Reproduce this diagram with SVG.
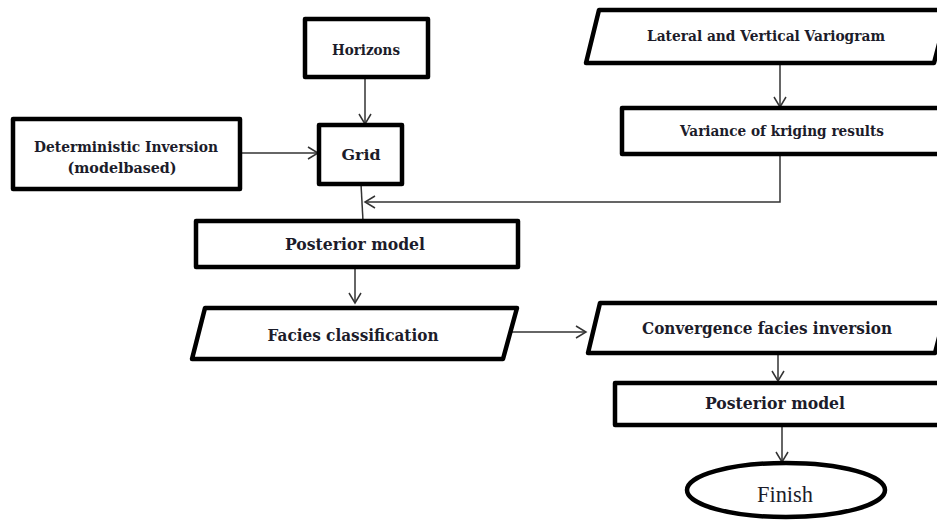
<svg xmlns="http://www.w3.org/2000/svg" width="937" height="520" viewBox="0 0 937 520">
<defs>
<marker id="ah" markerWidth="16" markerHeight="16" refX="11" refY="8" orient="auto" markerUnits="userSpaceOnUse">
<path d="M1,2 L11,8 L1,14" fill="none" stroke="#333" stroke-width="1.5"/>
</marker>
<style>
.box{fill:#fff;stroke:#000;stroke-width:4.5;stroke-linejoin:round}
.t{font-family:"DejaVu Serif","Liberation Serif",serif;font-weight:bold;fill:#1c1c2a;text-anchor:middle}
.s{font-size:14.5px}
.l{font-size:17px}
.c{fill:none;stroke:#333;stroke-width:1.5}
</style>
</defs>
<rect width="937" height="520" fill="#fff"/>
<g id="connectors">
<line class="c" x1="365" y1="77" x2="365" y2="124" marker-end="url(#ah)"/>
<line class="c" x1="240" y1="153" x2="318" y2="153" marker-end="url(#ah)"/>
<line class="c" x1="361" y1="184" x2="363" y2="221"/>
<polyline class="c" points="780,154 780,202 365,202" marker-end="url(#ah)"/>
<line class="c" x1="780" y1="63" x2="780" y2="107" marker-end="url(#ah)"/>
<line class="c" x1="355" y1="267" x2="355" y2="303" marker-end="url(#ah)"/>
<line class="c" x1="503" y1="332" x2="586" y2="332" marker-end="url(#ah)"/>
<line class="c" x1="778" y1="350" x2="778" y2="381" marker-end="url(#ah)"/>
<line class="c" x1="782" y1="425" x2="782" y2="462" marker-end="url(#ah)"/>
</g>
<g id="horizons">
<rect class="box" x="305" y="19" width="123" height="58"/>
<text class="t s" x="366" y="55" textLength="68" lengthAdjust="spacingAndGlyphs">Horizons</text>
</g>
<g id="grid">
<rect class="box" x="319" y="125" width="83" height="59"/>
<text class="t s" x="361" y="160" textLength="39" lengthAdjust="spacingAndGlyphs">Grid</text>
</g>
<g id="deterministic">
<rect class="box" x="13" y="119" width="227" height="70"/>
<text class="t s" x="126" y="152" textLength="184" lengthAdjust="spacingAndGlyphs">Deterministic Inversion</text>
<text class="t s" x="122" y="173" textLength="109" lengthAdjust="spacingAndGlyphs">(modelbased)</text>
</g>
<g id="posterior1">
<rect class="box" x="196" y="221" width="322" height="46"/>
<text class="t l" x="355" y="250" textLength="140" lengthAdjust="spacingAndGlyphs">Posterior model</text>
</g>
<g id="variogram">
<polygon class="box" points="599,10 948,10 934,63 586,63"/>
<text class="t s" x="766" y="41" textLength="238" lengthAdjust="spacingAndGlyphs">Lateral and Vertical Variogram</text>
</g>
<g id="variance">
<rect class="box" x="622" y="108" width="320" height="46"/>
<text class="t s" x="782" y="136" textLength="204" lengthAdjust="spacingAndGlyphs">Variance of kriging results</text>
</g>
<g id="facies">
<polygon class="box" points="205,308 517,308 503,359 192,359"/>
<text class="t l" x="353" y="341" textLength="171" lengthAdjust="spacingAndGlyphs">Facies classification</text>
</g>
<g id="convergence">
<polygon class="box" points="600,303 948,303 935,353 588,353"/>
<text class="t l" x="767" y="334" textLength="250" lengthAdjust="spacingAndGlyphs">Convergence facies inversion</text>
</g>
<g id="posterior2">
<rect class="box" x="615" y="383" width="330" height="42"/>
<text class="t l" x="775" y="409" textLength="140" lengthAdjust="spacingAndGlyphs">Posterior model</text>
</g>
<g id="finish">
<ellipse class="box" cx="786" cy="490" rx="99" ry="27"/>
<text x="785" y="502" font-family="Liberation Serif,DejaVu Serif,serif" font-size="23" fill="#1c1c2a" text-anchor="middle" textLength="56" lengthAdjust="spacingAndGlyphs">Finish</text>
</g>
</svg>
